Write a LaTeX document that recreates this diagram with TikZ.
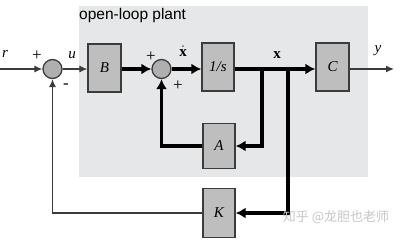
\documentclass[tikz,border=0pt]{standalone}
\usepackage{fontspec}
\setmainfont{Liberation Serif}
\newfontfamily\titlefont{Liberation Sans}
\newfontfamily\cjk{Noto Sans CJK SC}
\usetikzlibrary{arrows.meta}
\definecolor{plantbg}{HTML}{E6E7E9}
\definecolor{blockfill}{HTML}{BEBEBE}
\definecolor{edge}{HTML}{3C3C3C}
\begin{document}
\begin{tikzpicture}[x=1pt,y=-1pt,
  block/.style={draw=edge,line width=1.3pt,fill=blockfill,inner sep=0pt,
    minimum width=32pt,minimum height=48pt,font=\fontsize{15}{17}\selectfont\itshape},
  summer/.style={circle,draw=edge,line width=1.3pt,fill=blockfill!92!black,
    inner sep=0pt,minimum size=19pt},
  thin/.style={draw=edge,line width=1.2pt,-{Latex[length=8pt,width=7pt]}},
  thick/.style={draw=black,line width=3.5pt,-{Latex[length=10pt,width=11pt]}},
  lbl/.style={inner sep=0pt},
  sign/.style={font=\fontsize{17}{19}\selectfont,inner sep=0pt}]
\useasboundingbox (0,0) rectangle (402,241);
% plant region
\fill[plantbg] (79,6) rectangle (368,177);
\node[anchor=west,inner sep=0pt,font=\titlefont\fontsize{15.5}{18}\selectfont] (title) at (79,15) {open-loop plant};
% blocks
\node[summer] (sum1) at (52.5,69) {};
\node[block,minimum width=33pt] (B) at (104.5,68) {B};
\node[summer] (sum2) at (161.5,69) {};
\node[block] (int) at (218,67) {1/s};
\node[block,minimum width=33pt] (C) at (332.5,67) {C};
\node[block,minimum height=45pt] (A) at (219,146) {A};
\node[block,minimum height=49pt] (K) at (219,213) {K};
\coordinate (rin) at (0,69);
\coordinate (yout) at (394,69);
\coordinate (b1) at (262,69);
\coordinate (b2) at (288,69);
% forward path
\draw[thin] (rin) -- (sum1.west);
\draw[thin] (sum1.east) -- (sum1.east -| B.west);
\draw[thick] (B.east |- sum2) -- (sum2.west);
\draw[thick] (sum2.east) -- (sum2.east -| int.west);
\draw[thick] (int.east |- sum2) -- (C.west |- sum2);
\draw[thin] (C.east |- sum2) -- (yout);
% state feedback paths
\draw[thick,line join=miter] (b1) |- (A.east);
\draw[thick,line join=miter] (A.west) -| (sum2.south);
\draw[thick,line join=miter] (b2) |- (K.east);
\draw[thin,line join=miter] (K.west) -| (sum1.south);
% signal labels
\node[lbl,font=\fontsize{15}{17}\selectfont\itshape] (rlab) at (5,54) {r};
\node[lbl,font=\fontsize{15}{17}\selectfont\itshape] (ulab) at (72,55) {u};
\node[lbl,font=\fontsize{15}{17}\selectfont] (xdlab) at (183,51) {$\dot{\mathbf{x}}$};
\node[lbl,font=\fontsize{15}{17}\selectfont\bfseries] (xlab) at (277,55) {x};
\node[lbl,font=\fontsize{15}{17}\selectfont\itshape] (ylab) at (378,51) {y};
% summing signs
\node[sign] (p1) at (37,56) {+};
\node[sign] (m1) at (66,86) {-};
\node[sign] (p2) at (151,57) {+};
\node[sign] (p3) at (178,86) {+};
% credit line
\node[inner sep=0pt,text=gray!45,font=\cjk\fontsize{13}{15}\selectfont] (credit) at (336,217) {知乎 @龙胆也老师};
\end{tikzpicture}
\end{document}
